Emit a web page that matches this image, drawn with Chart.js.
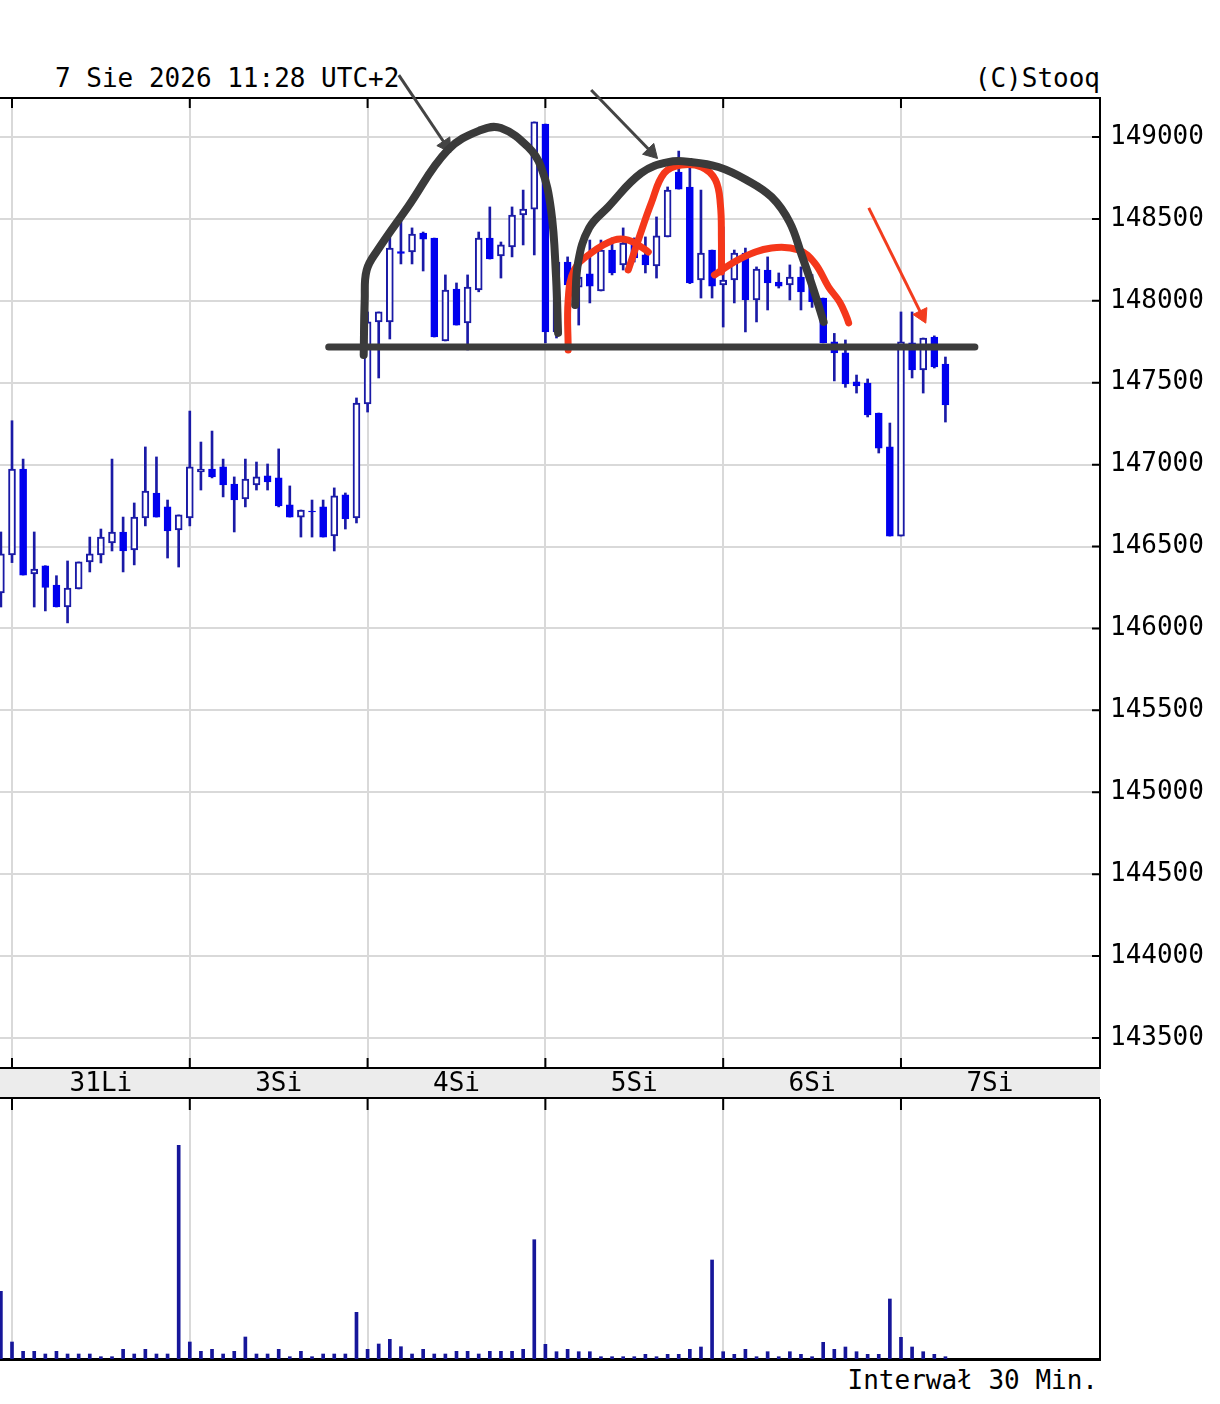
<!DOCTYPE html>
<html>
<head>
<meta charset="utf-8">
<title>Stooq 30 min</title>
<script src="https://cdn.jsdelivr.net/npm/chart.js@4.4.1/dist/chart.umd.min.js"></script>
<style>
    body { margin: 0; background: #fff; width: 1220px; height: 1404px; overflow: hidden; position: relative; font-family: 'DejaVu Sans Mono', monospace; }
    .txt { position: absolute; font-size: 26px; line-height: 1; color: #000; white-space: pre; }
    #priceBox { position: absolute; left: 0; top: 0; width: 1220px; height: 1099px; }
    #volBox { position: absolute; left: 0; top: 1099px; width: 1220px; height: 263px; }
</style>
</head>
<body>
<div class="txt" style="left:55px; top:65px;">7 Sie 2026 11:28 UTC+2</div>
<div class="txt" style="right:120px; top:65px;">(C)Stooq</div>
<div class="txt" style="right:122px; top:1367px;">Interwał 30 Min.</div>
<div id="priceBox"><canvas id="priceChart"></canvas></div>
<div id="volBox"><canvas id="volChart"></canvas></div>

<script>
// one candle per 30 minutes, index 0 = last candle of 30 Jul
const opens = [146217,
    146449, 146973, 146333, 146383, 146265, 146131, 146241, 146406, 146449, 146522, 146589, 146479, 146674, 146827, 146742, 146601,
    146674, 146955, 146973, 146986, 146882, 146790, 146876, 146931, 146919, 146754, 146680, 146717, 146742, 146565, 146815, 146674,
    147370, 147871, 147871, 148300, 148298, 148414, 148383, 147755, 148072, 147865, 148066, 148383, 148274, 148329, 148524, 148560,
    149079, 147810, 148237, 148084, 148164, 148060, 148310, 148219, 148353, 148280, 148213, 148390, 148786, 148695, 148127, 148310,
    148097, 148127, 148292, 148005, 148188, 148115, 148097, 148145, 148090, 148017, 147749, 147682, 147505, 147498, 147315, 147108,
    146564, 147743, 147578, 147779, 147614];
const highs = [146589,
    147268, 147034, 146589, 146383, 146322, 146412, 146406, 146558, 146607, 147034, 146680, 146766, 147108, 147047, 146784, 146693,
    147327, 147138, 147205, 147034, 146925, 147034, 147016, 147004, 147096, 146870, 146723, 146784, 146784, 146858, 146827, 147407,
    147932, 147932, 148390, 148493, 148445, 148420, 148383, 148158, 148109, 148158, 148420, 148573, 148359, 148573, 148676, 149092,
    149079, 148268, 148268, 148170, 148371, 148371, 148384, 148445, 148384, 148390, 148512, 148695, 148914, 148847, 148676, 148310,
    148451, 148310, 148322, 148207, 148268, 148170, 148219, 148207, 148160, 148017, 147801, 147761, 147547, 147523, 147315, 147254,
    147932, 147932, 147773, 147786, 147657];
const lows = [146131,
    146402, 146326, 146131, 146107, 146131, 146034, 146241, 146345, 146400, 146473, 146345, 146388, 146626, 146680, 146430, 146375,
    146626, 146845, 146919, 146803, 146589, 146742, 146845, 146845, 146742, 146680, 146558, 146558, 146558, 146473, 146607, 146644,
    147321, 147529, 147767, 148225, 148225, 148182, 147779, 147755, 147852, 147700, 148055, 148255, 148139, 148268, 148341, 148280,
    147743, 147773, 148005, 147852, 147987, 148060, 148158, 148188, 148237, 148170, 148139, 148390, 148682, 148105, 148017, 148017,
    147840, 147987, 147810, 147871, 147944, 148078, 148005, 147944, 147960, 147743, 147511, 147472, 147437, 147291, 147071, 146564,
    146564, 147529, 147437, 147590, 147260];
const closes = [146455,
    146973, 146326, 146363, 146251, 146131, 146247, 146406, 146455, 146558, 146589, 146473, 146680, 146839, 146680, 146595, 146693,
    146986, 146973, 146925, 146876, 146784, 146912, 146925, 146894, 146748, 146680, 146723, 146711, 146558, 146809, 146668, 147376,
    147871, 147932, 148322, 148290, 148408, 148377, 147779, 148066, 147852, 148084, 148383, 148255, 148341, 148524, 148560, 149092,
    147810, 148237, 148097, 148145, 148090, 148310, 148170, 148353, 148262, 148219, 148396, 148676, 148682, 148109, 148292, 148090,
    148127, 148292, 148005, 148194, 148109, 148090, 148145, 148054, 147995, 147743, 147682, 147492, 147480, 147303, 147101, 146564,
    147749, 147578, 147773, 147597, 147364];
const volumes = [677,
    170, 77, 77, 50, 77, 50, 50, 50, 23, 23, 97, 50, 97, 50, 50, 2137,
    170, 77, 97, 50, 77, 220, 50, 50, 97, 23, 77, 23, 50, 50, 50, 467,
    97, 150, 197, 123, 50, 97, 50, 50, 77, 77, 50, 77, 77, 77, 97, 1193,
    147, 73, 97, 73, 73, 23, 23, 23, 23, 47, 23, 47, 47, 97, 120, 990,
    73, 47, 97, 23, 73, 23, 73, 47, 23, 167, 97, 120, 73, 47, 47, 600,
    217, 120, 73, 47, 23];

const dayStarts = [1, 17, 33, 49, 65, 81];
const dayLabels = ['31Li', '3Si', '4Si', '5Si', '6Si', '7Si'];
const priceTicks = [143500, 144000, 144500, 145000, 145500, 146000, 146500, 147000, 147500, 148000, 148500, 149000];

// hand drawn marks, [candle index, price]
const neckLine = [[29.5, 147718], [87.65, 147718]];
const blackArchLeft = [[32.65, 147669], [32.74, 148005], [32.92, 148188], [33.91, 148310], [36.62, 148573], [40.22, 148921],
    [43.2, 149043], [45.0, 149055], [47.44, 148939], [48.61, 148817], [49.51, 148554], [49.96, 148145], [50.14, 147804]];
const blackArchRight = [[51.68, 147974], [51.95, 148237], [52.94, 148445], [54.65, 148573], [57.63, 148780], [60.06, 148847],
    [62.14, 148847], [64.57, 148817], [67.1, 148738], [69.35, 148634], [70.97, 148481], [72.06, 148280], [73.14, 148066], [74.04, 147871]];
const redCurveA = [[51.05, 147700], [51.05, 148005], [51.59, 148188], [53.12, 148292], [55.19, 148371], [56.46, 148371], [57.63, 148329], [58.26, 148298]];
const redCurveB = [[56.46, 148188], [57.36, 148371], [58.53, 148597], [59.7, 148780], [61.23, 148829], [63.04, 148817],
    [64.3, 148738], [64.75, 148585], [64.84, 148371], [64.84, 148176]];
const redCurveC = [[64.21, 148158], [66.64, 148261], [69.35, 148322], [71.79, 148310], [73.23, 148231], [74.49, 148084],
    [75.48, 147993], [76.11, 147901], [76.29, 147865]];
const arrowLeft = [[35.81, 149378], [40.04, 148951]];
const arrowMid = [[53.12, 149287], [58.53, 148908]];
const arrowRed = [[78.1, 148567], [82.88, 147913]];

const FONT = 'DejaVu Sans Mono';
Chart.defaults.font.family = FONT;
Chart.defaults.animation = false;

const X_MIN = -0.08;
const X_MAX = 98.91;
const GRID = '#d9d9d9';
const WICK = '#1a1aa6';
const FILLED = '#0000ee';

const toXY = pts => pts.map(p => ({ x: p[0], y: p[1] }));

function stroke(pts, color, width) {
    return {
        type: 'line',
        data: toXY(pts),
        borderColor: color,
        borderWidth: width,
        borderCapStyle: 'round',
        borderJoinStyle: 'round',
        pointRadius: 0,
        tension: 0.4,
        clip: false,
        order: 0
    };
}

function arrow(pts, color, width, rot) {
    return {
        type: 'line',
        data: toXY(pts),
        borderColor: color,
        borderWidth: width,
        pointStyle: 'triangle',
        pointRadius: [0, 9],
        pointRotation: [0, rot],
        pointBackgroundColor: color,
        pointBorderColor: color,
        pointBorderWidth: 1,
        tension: 0,
        clip: false,
        order: 0
    };
}

const up = closes.map((c, i) => c >= opens[i]);

const frame = {
    id: 'frame',
    beforeDraw(chart) {
        const { ctx, chartArea: a, scales: { x } } = chart;
        ctx.save();
        ctx.fillStyle = '#ececec';
        ctx.fillRect(a.left, a.bottom, a.right - a.left, x.bottom - a.bottom);
        ctx.restore();
    },
    beforeDatasetsDraw(chart) {
        const { ctx, chartArea: a, scales: { x, y } } = chart;
        ctx.save();
        ctx.strokeStyle = '#000';
        ctx.lineWidth = 2;
        ctx.beginPath();
        ctx.moveTo(a.left, a.top);
        ctx.lineTo(a.right, a.top);
        ctx.moveTo(a.left, x.bottom - 1);
        ctx.lineTo(a.right, x.bottom - 1);
        dayStarts.forEach(d => {
            const px = x.getPixelForValue(d);
            ctx.moveTo(px, a.top);
            ctx.lineTo(px, a.top + 10);
            ctx.moveTo(px, a.bottom);
            ctx.lineTo(px, a.bottom - 10);
        });
        priceTicks.forEach(v => {
            const py = y.getPixelForValue(v);
            ctx.moveTo(a.right - 8, py);
            ctx.lineTo(a.right, py);
        });
        ctx.stroke();
        ctx.restore();
    }
};

new Chart(document.getElementById('priceChart'), {
    type: 'bar',
    data: {
        datasets: [
            stroke(neckLine, '#3c3c3c', 7),
            stroke(blackArchLeft, '#3a3a3a', 8),
            stroke(blackArchRight, '#3a3a3a', 8),
            stroke(redCurveA, '#f5371a', 7),
            stroke(redCurveB, '#f5371a', 7),
            stroke(redCurveC, '#f5371a', 7),
            arrow(arrowLeft, '#444444', 3, 146),
            arrow(arrowMid, '#444444', 3, 136),
            arrow(arrowRed, '#f23c1e', 3, 154),
            {
                label: 'body',
                data: closes.map((c, i) => ({ x: i, y: [Math.min(opens[i], c), Math.max(opens[i], c)] })),
                backgroundColor: up.map(u => u ? '#ffffff' : FILLED),
                borderColor: up.map(u => u ? WICK : FILLED),
                borderWidth: 2,
                borderSkipped: false,
                barThickness: 7,
                grouped: false,
                order: 2
            },
            {
                label: 'wick',
                data: highs.map((h, i) => ({ x: i, y: [lows[i], h] })),
                backgroundColor: WICK,
                borderWidth: 0,
                barThickness: 2,
                grouped: false,
                order: 3
            }
        ]
    },
    options: {
        responsive: true,
        maintainAspectRatio: false,
        events: [],
        layout: { autoPadding: false, padding: { top: 98, left: 0, right: 0, bottom: 0 } },
        plugins: { legend: { display: false }, tooltip: { enabled: false } },
        scales: {
            x: {
                type: 'linear',
                min: X_MIN,
                max: X_MAX,
                offset: false,
                afterBuildTicks: s => { s.ticks = dayStarts.flatMap(d => [{ value: d }, { value: d + 8 }]); },
                afterFit: s => { s.height = 31; s.paddingLeft = 0; s.paddingRight = 0; },
                ticks: {
                    autoSkip: false,
                    maxRotation: 0,
                    padding: 1,
                    color: '#000',
                    font: { family: FONT, size: 26 },
                    callback: v => {
                        const k = dayStarts.indexOf(v - 8);
                        return k < 0 ? '' : dayLabels[k];
                    }
                },
                grid: {
                    offset: false,
                    drawTicks: false,
                    lineWidth: 2,
                    color: c => (c.tick && dayStarts.includes(c.tick.value)) ? GRID : 'rgba(0,0,0,0)'
                },
                border: { display: true, color: '#000', width: 2 }
            },
            y: {
                type: 'linear',
                position: 'right',
                min: 143317,
                max: 149238,
                beginAtZero: false,
                afterBuildTicks: s => { s.ticks = priceTicks.map(v => ({ value: v })); },
                afterFit: s => { s.width = 120; },
                ticks: {
                    padding: 10,
                    color: '#000',
                    font: { family: FONT, size: 26 },
                    callback: v => String(v)
                },
                grid: { color: GRID, lineWidth: 2, drawTicks: false },
                border: { display: true, color: '#000', width: 2 }
            }
        }
    },
    plugins: [frame]
});

const volTicks = {
    id: 'volTicks',
    beforeDatasetsDraw(chart) {
        const { ctx, chartArea: a, scales: { x } } = chart;
        ctx.save();
        ctx.strokeStyle = '#000';
        ctx.lineWidth = 2;
        ctx.beginPath();
        dayStarts.forEach(d => {
            const px = x.getPixelForValue(d);
            ctx.moveTo(px, a.top);
            ctx.lineTo(px, a.top + 11);
        });
        ctx.stroke();
        ctx.restore();
    }
};

new Chart(document.getElementById('volChart'), {
    type: 'bar',
    data: {
        datasets: [{
            label: 'wolumen',
            data: volumes.map((v, i) => ({ x: i, y: v })),
            backgroundColor: '#16169a',
            barThickness: 3,
            grouped: false
        }]
    },
    options: {
        responsive: true,
        maintainAspectRatio: false,
        events: [],
        layout: { autoPadding: false, padding: 0 },
        plugins: { legend: { display: false }, tooltip: { enabled: false } },
        scales: {
            x: {
                type: 'linear',
                min: X_MIN,
                max: X_MAX,
                offset: false,
                afterBuildTicks: s => { s.ticks = dayStarts.map(v => ({ value: v })); },
                afterFit: s => { s.height = 3; s.paddingLeft = 0; s.paddingRight = 0; },
                ticks: { display: false },
                grid: { offset: false, drawTicks: false, color: GRID, lineWidth: 2 },
                border: { display: true, color: '#000', width: 3 }
            },
            y: {
                type: 'linear',
                position: 'right',
                min: 0,
                max: 2600,
                afterFit: s => { s.width = 120; },
                ticks: { display: false },
                grid: { display: false, drawTicks: false },
                border: { display: true, color: '#000', width: 2 }
            }
        }
    },
    plugins: [volTicks]
});
</script>
</body>
</html>
